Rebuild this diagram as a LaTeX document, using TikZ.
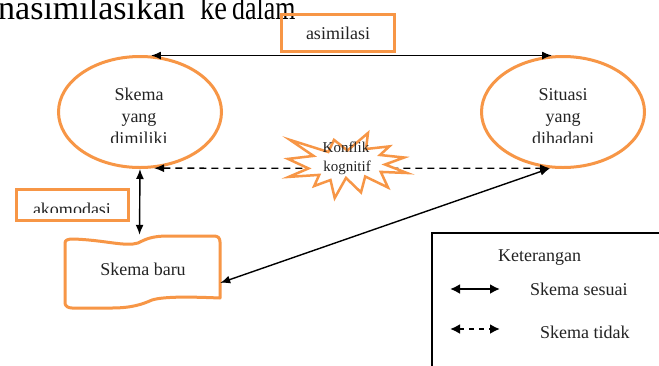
\documentclass[tikz,border=0pt]{standalone}
\usepackage{fontspec}
\setmainfont{Liberation Serif}
\usetikzlibrary{arrows.meta,calc,shapes.geometric}
\definecolor{wordorange}{RGB}{247,150,70}
\definecolor{txt}{RGB}{35,35,35}
\begin{document}
\begin{tikzpicture}[x=1pt,y=-1pt,
  orng/.style={draw=wordorange,line width=3pt},
  conn/.style={line width=1.4pt,{Latex[length=10pt,width=8pt]}-{Latex[length=10pt,width=8pt]}},
  legarrow/.style={line width=2pt,{Latex[length=10pt,width=10pt]}-{Latex[length=10pt,width=10pt]}},
  lbl/.style={font=\fontsize{18}{21}\selectfont,text=txt,inner sep=0pt},
  small/.style={font=\fontsize{15}{17}\selectfont,text=txt,inner sep=0pt},
  big/.style={font=\fontsize{34}{38}\selectfont,text=black,inner sep=0pt,anchor=base west},
  burst/.style={fill=white,draw=wordorange,line width=2.5pt,line join=miter}]
\clip (0,0) rectangle (659,365);
\fill[white] (0,0) rectangle (659,365);

% clipped running text at the top
\node[big] (w1) at (-2,19) {\scalebox{1.0}[1]{nasimilasikan}};
\node[big] (w2) at (200,19) {\scalebox{0.84}[1]{ke}};
\node[big] (w3) at (232,19) {\scalebox{0.76}[1]{dalam}};

% ellipses
\node[ellipse,orng,minimum width=163pt,minimum height=111pt,inner sep=0pt] (L) at (140,112) {};
\node[ellipse,orng,minimum width=163pt,minimum height=111pt,inner sep=0pt] (R) at (563,112) {};
\begin{scope}
  \clip (50,60) rectangle (650,142);
  \node[lbl,anchor=base] (L1) at (139,100) {Skema};
  \node[lbl,anchor=base] (L2) at (139,122) {yang};
  \node[lbl,anchor=base] (L3) at (139,144) {dimiliki};
  \node[lbl,anchor=base] (R1) at (563,100) {Situasi};
  \node[lbl,anchor=base] (R2) at (563,122) {yang};
  \node[lbl,anchor=base] (R3) at (563,144) {dihadapi};
\end{scope}

% asimilasi box
\node[orng,minimum width=113pt,minimum height=37pt,inner sep=0pt] (asim) at (338,33) {};
\node[lbl,anchor=base] (asimt) at (338,39) {asimilasi};

% akomodasi box
\node[orng,minimum width=112pt,minimum height=31pt,inner sep=0pt] (akom) at (72.5,205) {};
\begin{scope}
  \clip (15,188) rectangle (130,212);
  \node[lbl,anchor=base] (akomt) at (72,215) {akomodasi};
\end{scope}

% tape shape "Skema baru"
\node[inner sep=0pt,minimum width=155pt,minimum height=70pt] (baru) at (142.5,272) {};
\draw[orng,line join=round]
  (65,300) -- (65,243) .. controls (65,240) and (68,239) .. (73,239)
  .. controls (105,240) and (125,247) .. (138,243)
  .. controls (146,239) and (152,236) .. (168,236)
  -- (214,236) .. controls (218,236) and (220,238) .. (220,242)
  -- (220,298)
  .. controls (195,297) and (165,296) .. (152,300)
  .. controls (143,304) and (132,308) .. (112,308)
  -- (72,308) .. controls (68,308) and (65,306) .. (65,303) -- cycle;
\node[lbl,anchor=base] (barut) at (143,275) {Skema baru};

% connectors
\draw[conn] (L.79) -- (R.101);
\draw[conn,dash pattern=on 7pt off 5pt] (L.-76) -- (R.-103);
\draw[conn] (L.south) -- ($(baru.north)+(-3,-2)$);
\draw[conn] (R.-103) -- (baru.-8);

% starburst (over the dashed line)
\filldraw[burst]
  (347.5,150.5) -- (368.0,133.0) -- (366.0,149.0) -- (389.3,146.4) -- (380.0,155.0)
  -- (404.2,157.5) -- (385.0,164.5) -- (407.0,173.0) -- (380.8,171.9) -- (388.0,187.5)
  -- (365.2,176.5) -- (361.0,192.4) -- (346.0,177.9) -- (334.7,198.0) -- (330.5,180.0)
  -- (314.2,186.0) -- (319.2,174.9) -- (288.7,176.9) -- (308.5,168.4) -- (288.0,158.9)
  -- (313.5,155.9) -- (290.0,139.9) -- (328.3,152.0) -- (334.0,139.9) -- cycle;
\node[small,anchor=base] (konf1) at (346,152) {Konflik};
\node[small,anchor=base] (konf2) at (347,171) {kognitif};

% legend
\draw[line width=2.5pt] (432,233) rectangle (720,420);
\node[lbl,anchor=base west] (ket) at (498,261) {Keterangan};
\coordinate (s1) at (450,289);
\coordinate (s2) at (500,289);
\coordinate (d1) at (450,329);
\coordinate (d2) at (500,329);
\draw[legarrow] (s1) -- (s2);
\draw[legarrow,dash pattern=on 5pt off 5pt] (d1) -- (d2);
\node[lbl,anchor=base west] (ss) at (530,295) {Skema sesuai};
\node[lbl,anchor=base west] (st) at (540,338) {Skema tidak};
\end{tikzpicture}
\end{document}
